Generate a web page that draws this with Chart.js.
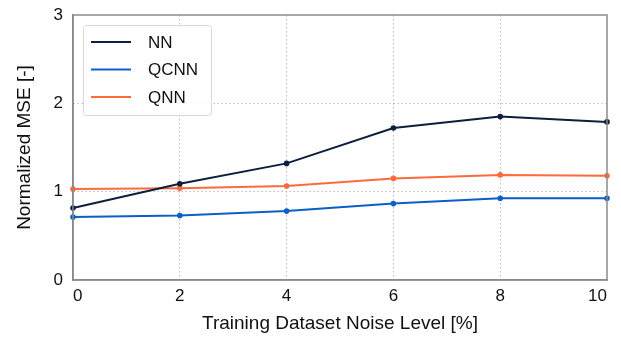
<!DOCTYPE html>
<html>
<head>
<meta charset="utf-8">
<script src="https://cdn.jsdelivr.net/npm/chart.js@4.4.1/dist/chart.umd.min.js"></script>
<style>
  html, body { margin: 0; padding: 0; background: #fff; }
  #wrap { width: 621px; height: 339px; }
</style>
</head>
<body>
<div id="wrap"><canvas id="mseChart" width="621" height="339"></canvas></div>
<script>
// noise levels (x) and normalized MSE per model
const noiseLevels = [0, 2, 4, 6, 8, 10];
const nnValues   = [0.815, 1.09, 1.32, 1.72, 1.85, 1.79];
const qcnnValues = [0.713, 0.73, 0.78, 0.865, 0.925, 0.925];
const qnnValues  = [1.03, 1.04, 1.065, 1.15, 1.19, 1.18];
const seriesNames = ["NN", "QCNN", "QNN"];
const seriesColors = ["#0e1f3d", "#0a60c6", "#ff6a3d"];

const FONT = "'Liberation Sans', Arial, sans-serif";

function toPoints(vals) {
  return noiseLevels.map((x, i) => ({ x: x, y: vals[i] }));
}

// boxed legend inside the plot, top-left
const boxLegend = {
  id: "boxLegend",
  afterDraw(chart) {
    const ctx = chart.ctx;
    const x0 = 83, y0 = 25, w = 128, h = 90;
    ctx.save();
    ctx.fillStyle = "rgba(255,255,255,0.9)";
    ctx.strokeStyle = "#d8d8d8";
    ctx.lineWidth = 1;
    ctx.beginPath();
    ctx.roundRect(x0 + 0.5, y0 + 0.5, w, h, 3);
    ctx.fill();
    ctx.stroke();
    ctx.font = "17px " + FONT;
    ctx.textBaseline = "middle";
    chart.data.datasets.forEach((ds, i) => {
      const yy = y0 + 17 + i * 27.5;
      ctx.strokeStyle = ds.borderColor;
      ctx.lineWidth = 2;
      ctx.beginPath();
      ctx.moveTo(x0 + 8, yy);
      ctx.lineTo(x0 + 48, yy);
      ctx.stroke();
      ctx.fillStyle = "#111";
      ctx.fillText(ds.label, x0 + 65, yy + 1);
    });
    ctx.restore();
  }
};

const datasets = [nnValues, qcnnValues, qnnValues].map((vals, i) => ({
  label: seriesNames[i],
  data: toPoints(vals),
  borderColor: seriesColors[i],
  backgroundColor: seriesColors[i],
  borderWidth: 2,
  pointRadius: 1.8,
  pointHoverRadius: 1.8,
  tension: 0
}));

new Chart(document.getElementById("mseChart"), {
  type: "line",
  data: { datasets: datasets },
  options: {
    responsive: false,
    animation: false,
    clip: false,
    layout: { padding: { top: 15, right: 14, left: 9, bottom: 0 }, autoPadding: false },
    plugins: {
      legend: { display: false },
      tooltip: { enabled: false }
    },
    scales: {
      x: {
        type: "linear",
        min: 0,
        max: 10,
        afterFit: (s) => { s.height = 59; s.paddingLeft = 0; s.paddingRight = 0; },
        ticks: { stepSize: 2, color: "#111", font: { family: FONT, size: 17 }, padding: 6, maxRotation: 0, align: "inner" },
        grid: {
          color: (c) => (c.tick && (c.tick.value === 0 || c.tick.value === 10)) ? "rgba(0,0,0,0)" : "#bdbdbd",
          lineWidth: 1,
          drawTicks: false
        },
        border: { color: "#8a8a8a", width: 1.5, dash: [1.5, 2.5] },
        title: { display: true, text: "Training Dataset Noise Level [%]", color: "#111", font: { family: FONT, size: 19 }, padding: { top: 6 } }
      },
      y: {
        min: 0,
        max: 3,
        afterFit: (s) => { s.width = 64; s.paddingTop = 0; s.paddingBottom = 0; },
        ticks: { stepSize: 1, color: "#111", font: { family: FONT, size: 17 }, padding: 10 },
        grid: {
          color: (c) => (c.tick && (c.tick.value === 0 || c.tick.value === 3)) ? "rgba(0,0,0,0)" : "#bdbdbd",
          lineWidth: 1,
          drawTicks: false
        },
        border: { color: "#8a8a8a", width: 1.5, dash: [1.5, 2.5] },
        title: { display: true, text: "Normalized MSE [-]", color: "#111", font: { family: FONT, size: 19 }, padding: { bottom: 4 } }
      }
    }
  },
  plugins: [
    {
      id: "frame",
      afterDatasetsDraw(chart) {
        const a = chart.chartArea, ctx = chart.ctx;
        ctx.save();
        ctx.setLineDash([]);
        ctx.strokeStyle = "#8a8a8a";
        ctx.lineWidth = 1.5;
        ctx.strokeRect(a.left, a.top, a.right - a.left, a.bottom - a.top);
        ctx.restore();
      }
    },
    boxLegend
  ]
});
</script>
</body>
</html>
